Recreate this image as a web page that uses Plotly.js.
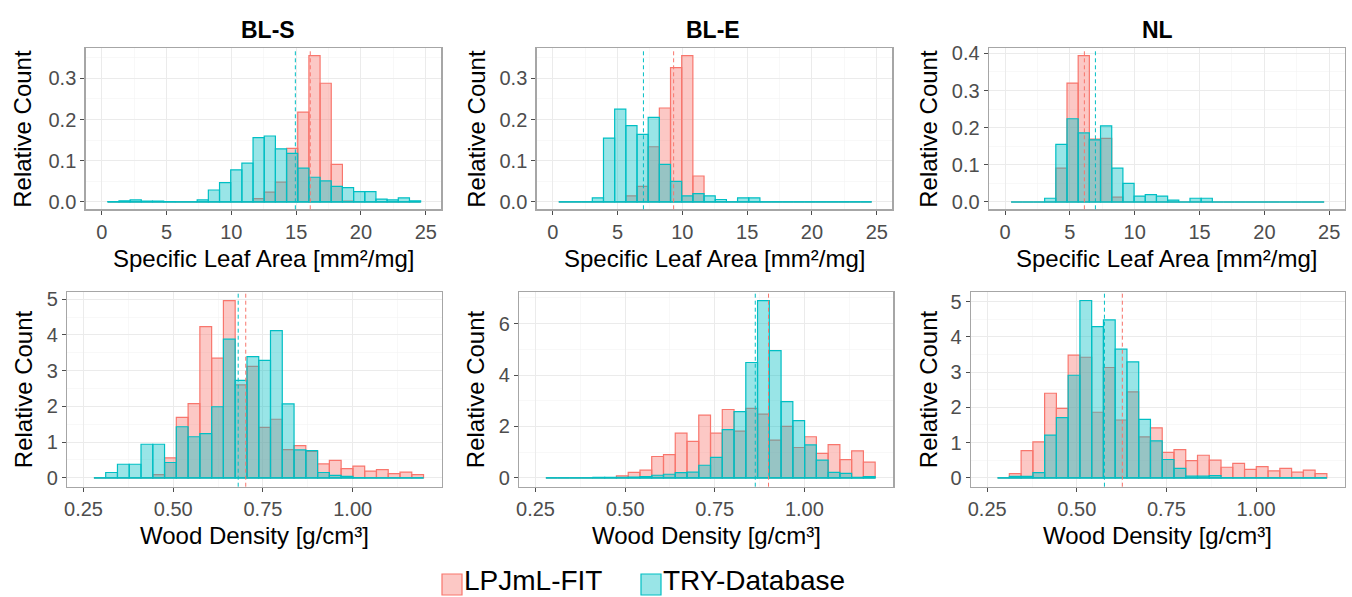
<!DOCTYPE html>
<html><head><meta charset="utf-8">
<script src="https://cdn.plot.ly/plotly-3.0.1.min.js"></script>
<style>html,body{margin:0;padding:0;background:#fff}#chart{width:1352px;height:597px}</style>
</head><body><div id="chart"></div>
<script>
// ---------- data ----------
const groups = ["LPJmL-FIT", "TRY-Database"];
const pfts = ["BL-S", "BL-E", "NL"];
const slaLabel = "Specific Leaf Area [mm²/mg]";
const wdLabel = "Wood Density [g/cm³]";
const yLabel = "Relative Count";

// histogram bins (28 bins each)
const slaBinStart = 0.47, slaBinWidth = 0.862;
const wdBinStart = 0.279, wdBinWidth = 0.0328;

// Specific leaf area, relative counts per bin
const slaFitBLS = [0,0,0,0,0,0,0,0,0,0,0,0,0.001,0.008,0.024,0.048,0.130,0.218,0.355,0.288,0.091,0.002,0,0,0,0,0,0];
const slaTryBLS = [0.001,0.003,0.005,0.002,0.002,0.001,0,0,0.005,0.029,0.047,0.078,0.094,0.156,0.160,0.129,0.118,0.082,0.060,0.051,0.038,0.035,0.025,0.025,0.007,0.005,0.010,0.003];
const slaFitBLE = [0,0,0,0,0,0,0.015,0.038,0.134,0.228,0.326,0.355,0.063,0,0,0,0,0,0,0,0,0,0,0,0,0,0,0];
const slaTryBLE = [0,0,0,0.010,0.155,0.225,0.185,0.164,0.205,0.091,0.050,0.015,0.020,0.015,0.006,0,0.010,0.010,0,0,0,0,0,0,0,0,0,0];
const slaFitNL  = [0,0,0,0,0.091,0.320,0.394,0.169,0.171,0.013,0,0,0,0,0,0,0,0,0,0,0,0,0,0,0,0,0,0];
const slaTryNL  = [0,0,0,0.010,0.155,0.224,0.186,0.167,0.205,0.091,0.050,0.016,0.020,0.016,0.005,0,0.010,0.010,0,0,0,0,0,0,0,0,0,0];

// Wood density, relative counts per bin
const wdFitBLS = [0,0,0,0,0.01,0.09,0.56,1.69,2.08,4.23,3.35,4.96,2.60,3.12,1.41,1.64,0.79,0.90,0.74,0.39,0.49,0.26,0.33,0.19,0.23,0.12,0.16,0.09];
const wdTryBLS = [0,0.15,0.38,0.38,0.94,0.94,0.43,1.43,1.15,1.24,1.99,3.88,2.73,3.39,3.29,4.12,2.07,0.78,0.76,0.15,0.07,0.04,0.01,0,0,0,0,0];
const wdFitBLE = [0,0,0,0,0,0.01,0.08,0.21,0.30,0.83,0.90,1.74,1.42,2.44,1.74,2.66,1.82,2.70,2.48,1.47,2.00,1.18,1.60,0.95,1.29,0.71,1.05,0.61];
const wdTryBLE = [0,0,0,0,0.02,0.02,0.02,0.03,0.05,0.10,0.14,0.20,0.22,0.49,0.80,1.88,2.58,4.49,6.90,4.95,2.97,2.23,1.28,0.69,0.21,0.17,0.02,0.05];
const wdFitNL  = [0,0.12,0.77,1.02,2.40,1.97,3.48,3.42,1.86,3.13,1.64,2.44,1.16,1.42,0.72,0.80,0.49,0.64,0.50,0.30,0.41,0.24,0.32,0.20,0.27,0.16,0.22,0.12];
const wdTryNL  = [0,0.04,0.04,0.15,1.21,1.71,2.91,5.03,4.29,4.48,3.65,3.29,1.66,1.05,0.52,0.27,0.05,0.05,0.06,0.01,0,0,0,0,0,0,0,0];

// group means (dashed lines)
const slaMeanFit = [16.09, 9.33, 6.12];
const slaMeanTry = [14.94, 7.00, 6.97];
const wdMeanFit = [0.702, 0.900, 0.627];
const wdMeanTry = [0.681, 0.863, 0.577];

// ---------- styling ----------
const W = 1352, H = 597;
const FONT = "Liberation Sans, Arial, Helvetica, sans-serif";
const fitLine = "#F8766D", fitFill = "rgba(248,118,109,0.4)";
const tryLine = "#00BFC4", tryFill = "rgba(0,191,196,0.4)";
const groupLine = [fitLine, tryLine], groupFill = [fitFill, tryFill];

// panel boxes in pixels [left, right, top, bottom]
const boxes = [
  [85.5, 441.3, 48.3, 209.3], [536.5, 892.3, 48.3, 209.3], [988.8, 1344.8, 48.3, 209.3],
  [67, 441.7, 291.7, 486.7], [519, 893.3, 291.7, 486.7], [970.7, 1345, 291.7, 486.7]
];
const yRanges = [[-0.0178, 0.3728], [-0.0178, 0.3728], [-0.0197, 0.4137],
                 [-0.248, 5.21], [-0.345, 7.245], [-0.2515, 5.28]];
const yDticks = [0.1, 0.1, 0.1, 1, 2, 1];
const yTitleX = [23, 477, 929, 23, 475, 928];
const panelTitleX = [268, 713, 1157];
const legendKeyX = [442, 641];   // key box left edges (px)

const fitSeries = [slaFitBLS, slaFitBLE, slaFitNL, wdFitBLS, wdFitBLE, wdFitNL];
const trySeries = [slaTryBLS, slaTryBLE, slaTryNL, wdTryBLS, wdTryBLE, wdTryNL];

const traces = [];
const shapes = [];
const annotations = [];
const layout = {
  width: W, height: H,
  margin: {l: 0, r: 0, t: 0, b: 0, autoexpand: false},
  paper_bgcolor: "#fff", plot_bgcolor: "#fff",
  barmode: "overlay", bargap: 0,
  font: {family: FONT, color: "#000"},
  showlegend: false
};

for (let p = 0; p < 6; p++) {
  const isSla = p < 3;
  const start = isSla ? slaBinStart : wdBinStart;
  const width = isSla ? slaBinWidth : wdBinWidth;
  const fit = fitSeries[p], tr = trySeries[p];
  const centers = fit.map((_, i) => start + width * (i + 0.5));
  const sfx = p === 0 ? "" : String(p + 1);
  const xa = "x" + sfx, ya = "y" + sfx;

  traces.push({
    type: "bar", x: centers, y: fit, width: width, xaxis: xa, yaxis: ya,
    marker: {color: fitFill, line: {color: fitLine, width: 1.2}},
    name: groups[0], hoverinfo: "skip"
  });
  traces.push({
    type: "bar", x: centers, y: tr, width: width, xaxis: xa, yaxis: ya,
    marker: {color: tryFill, line: {color: tryLine, width: 1.2}},
    name: groups[1], hoverinfo: "skip"
  });
  // baseline of zero-height bins
  traces.push({
    type: "scatter", mode: "lines", xaxis: xa, yaxis: ya,
    x: [start, start + width * tr.length], y: [0, 0],
    line: {color: tryLine, width: 1.2}, hoverinfo: "skip"
  });

  const b = boxes[p];
  const axBase = {
    showline: true, mirror: true, linecolor: "#a6a6a6", linewidth: 1.2,
    showgrid: true, gridcolor: "#ebebeb", gridwidth: 1, zeroline: false,
    ticks: "outside", ticklen: 4, tickcolor: "#4d4d4d", tickwidth: 1,
    tickfont: {size: 20, family: FONT, color: "#4d4d4d"}
  };
  layout["xaxis" + sfx] = Object.assign({}, axBase, {
    domain: [b[0] / W, b[1] / W], anchor: ya,
    range: isSla ? [-1.25, 26.2] : [0.204, 1.248],
    tick0: 0, dtick: isSla ? 5 : 0.25, tickformat: isSla ? "d" : ".2f",
    minor: {dtick: isSla ? 2.5 : 0.125, showgrid: true, gridcolor: "#f3f3f3", gridwidth: 0.6}
  });
  layout["yaxis" + sfx] = Object.assign({}, axBase, {
    domain: [1 - b[3] / H, 1 - b[2] / H], anchor: xa,
    range: yRanges[p], tick0: 0, dtick: yDticks[p], tickformat: isSla ? ".1f" : "d",
    minor: {dtick: yDticks[p] / 2, showgrid: true, gridcolor: "#f3f3f3", gridwidth: 0.6}
  });

  const mf = isSla ? slaMeanFit[p] : wdMeanFit[p - 3];
  const mt = isSla ? slaMeanTry[p] : wdMeanTry[p - 3];
  shapes.push({type: "line", xref: xa, yref: ya + " domain", x0: mf, x1: mf, y0: 0, y1: 1,
               line: {color: fitLine, width: 1, dash: "4px,3px"}});
  shapes.push({type: "line", xref: xa, yref: ya + " domain", x0: mt, x1: mt, y0: 0, y1: 1,
               line: {color: tryLine, width: 1, dash: "4px,3px"}});

  // axis titles
  annotations.push({
    text: isSla ? slaLabel : wdLabel, xref: "paper", yref: "paper",
    x: (b[0] + b[1]) / 2 / W, y: 1 - (isSla ? 258 : 535) / H,
    xanchor: "center", yanchor: "middle", showarrow: false,
    font: {size: 24, family: FONT, color: "#000"}
  });
  annotations.push({
    text: yLabel, xref: "paper", yref: "paper", textangle: -90,
    x: yTitleX[p] / W, y: 1 - (b[2] + b[3]) / 2 / H,
    xanchor: "center", yanchor: "middle", showarrow: false,
    font: {size: 24, family: FONT, color: "#000"}
  });
}

// panel titles
pfts.forEach((t, i) => {
  annotations.push({
    text: "<b>" + t + "</b>", xref: "paper", yref: "paper",
    x: panelTitleX[i] / W, y: 1 - 30 / H, xanchor: "center", yanchor: "middle",
    showarrow: false, font: {size: 23, family: FONT, color: "#000"}
  });
});

// legend (key boxes + labels)
groups.forEach((g, i) => {
  const x0 = legendKeyX[i];
  shapes.push({type: "rect", xref: "paper", yref: "paper",
    x0: x0 / W, x1: (x0 + 20) / W, y0: 1 - 595 / H, y1: 1 - 574 / H,
    fillcolor: groupFill[i], line: {color: groupLine[i], width: 1.2}});
  annotations.push({
    text: g, xref: "paper", yref: "paper", x: (x0 + 21) / W, y: 0,
    xanchor: "left", yanchor: "bottom", showarrow: false, borderpad: 0,
    font: {size: 28, family: FONT, color: "#000"}
  });
});

layout.shapes = shapes;
layout.annotations = annotations;

Plotly.newPlot("chart", traces, layout, {staticPlot: true, displayModeBar: false});
</script></body></html>
